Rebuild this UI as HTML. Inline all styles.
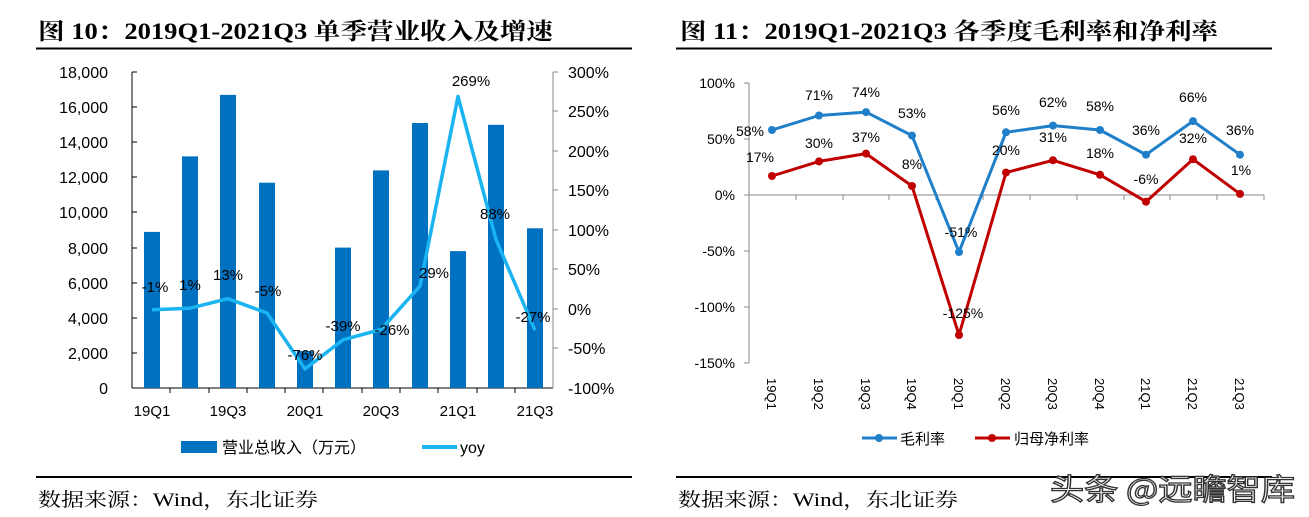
<!DOCTYPE html>
<html><head><meta charset="utf-8"><style>
html,body{margin:0;padding:0;background:#fff;}
svg{display:block;}
</style></head><body>
<svg width="1309" height="517" xmlns="http://www.w3.org/2000/svg" font-family="Liberation Sans, Noto Sans CJK SC, sans-serif">
<!-- Titles -->
<text x="38" y="39" font-family="Liberation Serif, Noto Serif CJK SC, serif" font-weight="bold" font-size="23" textLength="515" lengthAdjust="spacingAndGlyphs">图  10：2019Q1-2021Q3 单季营业收入及增速</text>
<text x="680" y="39" font-family="Liberation Serif, Noto Serif CJK SC, serif" font-weight="bold" font-size="23" textLength="538" lengthAdjust="spacingAndGlyphs">图  11：2019Q1-2021Q3 各季度毛利率和净利率</text>
<line x1="36" y1="48.5" x2="632" y2="48.5" stroke="#000" stroke-width="2"/>
<line x1="676" y1="48.5" x2="1272" y2="48.5" stroke="#000" stroke-width="2"/>
<line x1="36" y1="477" x2="632" y2="477" stroke="#000" stroke-width="2"/>
<line x1="676" y1="477" x2="1272" y2="477" stroke="#000" stroke-width="2"/>
<text x="38" y="506" font-family="Liberation Serif, Noto Serif CJK SC, serif" font-size="19" textLength="280" lengthAdjust="spacingAndGlyphs">数据来源：Wind，东北证券</text>
<text x="678" y="506" font-family="Liberation Serif, Noto Serif CJK SC, serif" font-size="19" textLength="280" lengthAdjust="spacingAndGlyphs">数据来源：Wind，东北证券</text>
<text x="1050" y="500" font-size="30" fill="#fff" stroke="#333" stroke-width="1.3" font-family="Noto Sans CJK SC, sans-serif" textLength="245" lengthAdjust="spacingAndGlyphs">头条 @远瞻智库</text>

<!-- LEFT CHART -->
<g font-size="15" fill="#000">
<line x1="132" y1="72" x2="132" y2="388" stroke="#000" stroke-width="1"/>
<line x1="132" y1="388" x2="553" y2="388" stroke="#000" stroke-width="1"/>
<line x1="553" y1="72" x2="553" y2="388" stroke="#888" stroke-width="1"/>
<g text-anchor="end" font-size="16">
<text x="108" y="78">18,000</text><text x="108" y="113">16,000</text><text x="108" y="148">14,000</text><text x="108" y="183">12,000</text><text x="108" y="218">10,000</text><text x="108" y="254">8,000</text><text x="108" y="289">6,000</text><text x="108" y="324">4,000</text><text x="108" y="359">2,000</text><text x="108" y="394">0</text>
</g>
<g stroke="#000"><line x1="132" y1="72" x2="137" y2="72"/><line x1="132" y1="107" x2="137" y2="107"/><line x1="132" y1="142" x2="137" y2="142"/><line x1="132" y1="177" x2="137" y2="177"/><line x1="132" y1="212" x2="137" y2="212"/><line x1="132" y1="248" x2="137" y2="248"/><line x1="132" y1="283" x2="137" y2="283"/><line x1="132" y1="318" x2="137" y2="318"/><line x1="132" y1="353" x2="137" y2="353"/></g>
<g text-anchor="start" font-size="16">
<text x="568" y="78">300%</text><text x="568" y="117">250%</text><text x="568" y="157">200%</text><text x="568" y="196">150%</text><text x="568" y="236">100%</text><text x="568" y="275">50%</text><text x="568" y="315">0%</text><text x="568" y="354">-50%</text><text x="568" y="394">-100%</text>
</g>
<g stroke="#888"><line x1="553" y1="72" x2="558" y2="72"/><line x1="553" y1="111" x2="558" y2="111"/><line x1="553" y1="151" x2="558" y2="151"/><line x1="553" y1="190" x2="558" y2="190"/><line x1="553" y1="230" x2="558" y2="230"/><line x1="553" y1="269" x2="558" y2="269"/><line x1="553" y1="309" x2="558" y2="309"/><line x1="553" y1="348" x2="558" y2="348"/></g>
<g fill="#0070c0">
<rect x="144" y="231.9" width="16" height="156.1"/>
<rect x="182" y="156.4" width="16" height="231.6"/>
<rect x="220" y="94.9" width="16" height="293.1"/>
<rect x="259" y="182.7" width="16" height="205.3"/>
<rect x="297" y="351.1" width="16" height="36.9"/>
<rect x="335" y="247.6" width="16" height="140.4"/>
<rect x="373" y="170.4" width="16" height="217.6"/>
<rect x="412" y="123" width="16" height="265"/>
<rect x="450" y="251.1" width="16" height="136.9"/>
<rect x="488" y="124.8" width="16" height="263.2"/>
<rect x="527" y="228.3" width="16" height="159.7"/>
</g>
<g stroke="#000"><line x1="170" y1="388" x2="170" y2="393"/><line x1="209" y1="388" x2="209" y2="393"/><line x1="247" y1="388" x2="247" y2="393"/><line x1="285" y1="388" x2="285" y2="393"/><line x1="323" y1="388" x2="323" y2="393"/><line x1="362" y1="388" x2="362" y2="393"/><line x1="400" y1="388" x2="400" y2="393"/><line x1="438" y1="388" x2="438" y2="393"/><line x1="477" y1="388" x2="477" y2="393"/><line x1="515" y1="388" x2="515" y2="393"/></g>
<polyline fill="none" stroke="#1ab4f0" stroke-width="3.5" stroke-linejoin="round" points="152,309.8 190,308.2 228,298.7 267,313 305,369 343,339.8 381,329.5 420,286.1 458,96.5 496,239.5 535,330.3"/>
<g text-anchor="middle" font-size="15">
<text x="155" y="292">-1%</text><text x="190" y="290">1%</text><text x="228" y="280">13%</text><text x="268" y="296">-5%</text><text x="305" y="360">-76%</text><text x="343" y="331">-39%</text><text x="392" y="335">-26%</text><text x="434" y="278">29%</text><text x="471" y="86">269%</text><text x="495" y="219">88%</text><text x="533" y="322">-27%</text>
</g>
<g text-anchor="middle" font-size="15"><text x="152" y="416">19Q1</text><text x="228" y="416">19Q3</text><text x="305" y="416">20Q1</text><text x="381" y="416">20Q3</text><text x="458" y="416">21Q1</text><text x="535" y="416">21Q3</text></g>
<rect x="181" y="441" width="36" height="12" fill="#0070c0"/>
<text x="222" y="453" font-size="16" font-family="Noto Sans CJK SC, sans-serif">营业总收入（万元）</text>
<line x1="422" y1="447" x2="457" y2="447" stroke="#1ab4f0" stroke-width="4"/>
<text x="460" y="453" font-size="16">yoy</text>
</g>

<!-- RIGHT CHART -->
<g font-size="14" fill="#000">
<line x1="749" y1="83" x2="749" y2="363" stroke="#888"/>
<line x1="749" y1="195" x2="1264" y2="195" stroke="#888"/>
<g stroke="#888"><line x1="744" y1="83" x2="749" y2="83"/><line x1="744" y1="139" x2="749" y2="139"/><line x1="744" y1="195" x2="749" y2="195"/><line x1="744" y1="251" x2="749" y2="251"/><line x1="744" y1="307" x2="749" y2="307"/><line x1="744" y1="363" x2="749" y2="363"/>
<line x1="796" y1="195" x2="796" y2="200"/><line x1="843" y1="195" x2="843" y2="200"/><line x1="889" y1="195" x2="889" y2="200"/><line x1="936" y1="195" x2="936" y2="200"/><line x1="983" y1="195" x2="983" y2="200"/><line x1="1030" y1="195" x2="1030" y2="200"/><line x1="1077" y1="195" x2="1077" y2="200"/><line x1="1124" y1="195" x2="1124" y2="200"/><line x1="1170" y1="195" x2="1170" y2="200"/><line x1="1217" y1="195" x2="1217" y2="200"/><line x1="1264" y1="195" x2="1264" y2="200"/></g>
<g text-anchor="end"><text x="735" y="88">100%</text><text x="735" y="144">50%</text><text x="735" y="200">0%</text><text x="735" y="256">-50%</text><text x="735" y="312">-100%</text><text x="735" y="368">-150%</text></g>
<polyline fill="none" stroke="#1f7fc8" stroke-width="3" stroke-linejoin="round" points="772,130 819,115.5 866,112.1 912,135.6 959,252.1 1006,132.3 1053,125.6 1100,130 1146,154.7 1193,121.1 1240,154.7"/>
<polyline fill="none" stroke="#c00000" stroke-width="3" stroke-linejoin="round" points="772,176 819,161.4 866,153.6 912,186 959,335 1006,172.6 1053,160.3 1100,174.8 1146,201.7 1193,159.2 1240,193.9"/>
<g fill="#1f7fc8"><circle cx="772" cy="130" r="4"/><circle cx="819" cy="115.5" r="4"/><circle cx="866" cy="112.1" r="4"/><circle cx="912" cy="135.6" r="4"/><circle cx="959" cy="252.1" r="4"/><circle cx="1006" cy="132.3" r="4"/><circle cx="1053" cy="125.6" r="4"/><circle cx="1100" cy="130" r="4"/><circle cx="1146" cy="154.7" r="4"/><circle cx="1193" cy="121.1" r="4"/><circle cx="1240" cy="154.7" r="4"/></g>
<g fill="#c00000"><circle cx="772" cy="176" r="4"/><circle cx="819" cy="161.4" r="4"/><circle cx="866" cy="153.6" r="4"/><circle cx="912" cy="186" r="4"/><circle cx="959" cy="335" r="4"/><circle cx="1006" cy="172.6" r="4"/><circle cx="1053" cy="160.3" r="4"/><circle cx="1100" cy="174.8" r="4"/><circle cx="1146" cy="201.7" r="4"/><circle cx="1193" cy="159.2" r="4"/><circle cx="1240" cy="193.9" r="4"/></g>
<g text-anchor="middle">
<text x="750" y="136">58%</text><text x="819" y="100">71%</text><text x="866" y="97">74%</text><text x="912" y="118">53%</text><text x="961" y="237">-51%</text><text x="1006" y="115">56%</text><text x="1053" y="107">62%</text><text x="1100" y="111">58%</text><text x="1146" y="135">36%</text><text x="1193" y="102">66%</text><text x="1240" y="135">36%</text>
<text x="760" y="162">17%</text><text x="819" y="148">30%</text><text x="866" y="142">37%</text><text x="912" y="169">8%</text><text x="963" y="318">-125%</text><text x="1006" y="155">20%</text><text x="1053" y="142">31%</text><text x="1100" y="158">18%</text><text x="1146" y="184">-6%</text><text x="1193" y="143">32%</text><text x="1241" y="175">1%</text>
</g>
<g font-size="13">
<text transform="translate(767,378) rotate(90)">19Q1</text><text transform="translate(814,378) rotate(90)">19Q2</text><text transform="translate(861,378) rotate(90)">19Q3</text><text transform="translate(907,378) rotate(90)">19Q4</text><text transform="translate(954,378) rotate(90)">20Q1</text><text transform="translate(1001,378) rotate(90)">20Q2</text><text transform="translate(1048,378) rotate(90)">20Q3</text><text transform="translate(1095,378) rotate(90)">20Q4</text><text transform="translate(1141,378) rotate(90)">21Q1</text><text transform="translate(1188,378) rotate(90)">21Q2</text><text transform="translate(1235,378) rotate(90)">21Q3</text>
</g>
<line x1="862" y1="438" x2="897" y2="438" stroke="#1f7fc8" stroke-width="3"/><circle cx="879" cy="438" r="4" fill="#1f7fc8"/>
<text x="900" y="444" font-size="15" font-family="Noto Sans CJK SC, sans-serif">毛利率</text>
<line x1="975" y1="438" x2="1010" y2="438" stroke="#c00000" stroke-width="3"/><circle cx="992" cy="438" r="4" fill="#c00000"/>
<text x="1014" y="444" font-size="15" font-family="Noto Sans CJK SC, sans-serif">归母净利率</text>
</g>
</svg>
</body></html>
